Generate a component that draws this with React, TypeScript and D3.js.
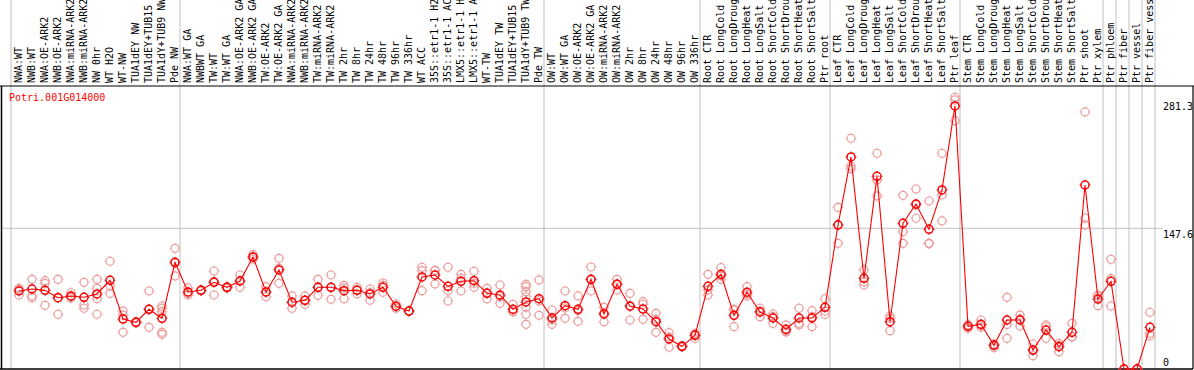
import React from "react";
import * as d3 from "d3";

const categories = [
  "NWA:WT", "NWB:WT", "NWA:OE-ARK2", "NWB:OE-ARK2", "NWA:miRNA-ARK2", "NWB:miRNA-ARK2",
  "NW 0hr", "WT H2O", "WT-NW", "TUA1dEY NW", "TUA1dEY+TUB15", "TUA1dY+TUB9 NW", "Pde NW",
  "NWA:WT GA", "NWBWT GA", "TW:WT", "TW:WT GA", "NWA:OE-ARK2 GA", "NWB:OE-ARK2 GA",
  "TW:OE-ARK2", "TW:OE-ARK2 GA", "NWA:miRNA-ARK2", "NWB:miRNA-ARK2", "TW:miRNA-ARK2",
  "TW:miRNA-ARK2", "TW 2hr", "TW 8hr", "TW 24hr", "TW 48hr", "TW 96hr", "TW 336hr",
  "WT ACC", "35S::etr1-1 H2", "35S::etr1-1 AC", "LMX5::etr1-1 H", "LMX5::etr1-1 A",
  "WT-TW", "TUA1dEY TW", "TUA1dEY+TUB15", "TUA1dY+TUB9 TW", "Pde TW",
  "OW:WT", "OW:WT GA", "OW:OE-ARK2", "OW:OE-ARK2 GA", "OW:miRNA-ARK2", "OW:miRNA-ARK2",
  "OW 2hr", "OW 8hr", "OW 24hr", "OW 48hr", "OW 96hr", "OW 336hr",
  "Root CTR", "Root LongCold", "Root LongDroug", "Root LongHeat", "Root LongSalt",
  "Root ShortCold", "Root ShortDrou", "Root ShortHeat", "Root ShortSalt", "Ptr root",
  "Leaf CTR", "Leaf LongCold", "Leaf LongDroug", "Leaf LongHeat", "Leaf LongSalt",
  "Leaf ShortCold", "Leaf ShortDrou", "Leaf ShortHeat", "Leaf ShortSalt", "Ptr leaf",
  "Stem CTR", "Stem LongCold", "Stem LongDroug", "Stem LongHeat", "Stem LongSalt",
  "Stem ShortCold", "Stem ShortDrou", "Stem ShortHeat", "Stem ShortSalt", "Ptr shoot",
  "Ptr xylem", "Ptr phloem", "Ptr fiber", "Ptr vessel", "Ptr fiber vess",
];

const means = [
  81.8, 83.9, 82.5, 74.8, 76.6, 75.2, 78.7, 93, 52.4, 49, 62.6, 53.2, 111.9,
  80.8, 82.5, 90.9, 85.7, 92.3, 117.5, 80.8, 103.9, 70, 72, 85.7, 85.7, 82.2, 82.5,
  78.7, 85.7, 65.8, 60.8, 96.5, 98.6, 86.7, 92, 92.6, 79.4, 77.6, 62.6, 70.3, 73.7,
  53.5, 66.4, 62.6, 94.1, 57.7, 88.8, 65.8, 62.9, 49.6, 31.5, 23.8, 35.3,
  86.7, 99.3, 56.3, 80.5, 59.8, 53.5, 41.6, 53.5, 53.5, 64.7,
  151, 222.4, 95.1, 202.1, 49.6, 152.8, 173, 146.5, 187.8, 275.9,
  44.8, 46.9, 24.8, 51.4, 51.4, 19.9, 40.9, 23.4, 38.5, 193,
  73.4, 92, 0, 0, 43.7,
];

const replicates = [
  [84.6, 77.6, 83], [94.1, 76.6, 74.8], [92.6, 89.9, 66.8], [94.1, 57.4, 74.8],
  [80, 75.2, 74.6], [90.9, 67.1, 63.7], [94.1, 84.6, 73.7, 57.4], [113, 87.1, 79.4],
  [60.8, 56.6, 38.5], [49.6, 49, 48.5], [81.8, 43.7, 62.6], [66.1, 63.7, 60.1, 38.5, 36.4],
  [126.6, 97.6, 111], [85, 79.4, 77.6], [83, 82, 82.5], [102.8, 77.6, 92],
  [86.3, 84.6, 86], [98.6, 85.7, 92.6], [117.5, 115.1, 120], [86.3, 75.8, 80.5],
  [116.1, 89.9, 105.7], [76.6, 63.7, 70], [76.6, 67.9, 72], [94.1, 77.3, 85.7],
  [98.6, 73.1, 85.5], [87.8, 85, 73.7], [85.7, 78.7, 83], [83.9, 72.1, 80],
  [90.2, 87.8, 80.5], [68.2, 63.7, 65.5], [60.8, 61, 60.6], [106.7, 103.1, 82.2],
  [103.1, 89.2, 103.5], [106.7, 82.2, 71.3], [99.3, 81.8, 95], [102.5, 85.7, 90],
  [84.6, 73.7, 80], [88.1, 68.9, 76], [67.9, 60.1, 60],
  [88.8, 86.3, 81.1, 75.8, 64.7, 57.4, 46.9], [93.4, 56.3, 71.4],
  [61.9, 46.9, 51.7], [81.8, 53.2, 64], [76.6, 50, 61], [107, 81.8, 93.5],
  [64.7, 49.6, 58.8], [94.1, 82.9, 89.4], [79.4, 51.4, 66.6], [70.6, 67.9, 52.1],
  [58.4, 38.5, 52], [38.1, 22.8, 33.6], [24.5, 23, 24], [37.4, 32.2, 36.3],
  [99.3, 77.6, 83], [106.3, 94.1, 97.5], [61.9, 44.4, 62.6], [86.3, 76.6, 78.6],
  [63.7, 54.9, 60.8], [57.7, 47.9, 54.9], [46.2, 38.8, 39.8], [63.7, 47.9, 46.2],
  [61.2, 44.4, 54.9], [73.7, 60.8, 57.4],
  [169.6, 131.8, 151.6], [242, 212.9, 210.1], [103.9, 91.6, 88.1], [226.3, 198.3, 181.5],
  [53.2, 40.2, 55.4], [182.2, 144, 131.8], [188.8, 158.1, 172], [176.2, 131.8, 131.5],
  [226.3, 182.5, 155.3], [285, 282.2, 260.5],
  [46.5, 45, 42.7], [51.4, 43.7, 45.6], [26, 26, 22.3], [75.2, 32.2, 46.8],
  [56.6, 45.1, 52.5], [26.2, 14, 19.5], [46.2, 32.2, 44.3], [27, 18.2, 25],
  [47.9, 33.9, 33.7], [269.6, 158.4, 151],
  [77.6, 66.4, 76.2], [115.1, 66.1, 94.8], [0, 0, 0], [0, 0, 0], [59.5, 37.4, 34.6],
];

const groupStarts = [0, 13, 41, 53, 63, 73, 84, 85, 86, 87, 88];
const yTicks = [281.3, 147.6, 0];
const geneName = "Potri.001G014000";

const W = 1194;
const H = 370;
const FONT = "'DejaVu Sans Mono', 'Liberation Mono', monospace";

export default function App() {
  const x = d3.scaleLinear().domain([0, categories.length - 1]).range([19, 1150]);
  const y = d3.scaleLinear().domain([0, 281.3]).range([369, 100.8]);
  const headerY = 86;
  const plotRight = 1193;
  const boundary = (i: number) => x(i) - 8;

  const line = d3
    .line<number>()
    .x((_, i) => x(i))
    .y((d) => y(d));

  const pink = "#eb9a9a";
  const red = "#ff0000";

  const marker = (cx: number, cy: number, color: string, tick: string, key: string, w: number) => (
    <g key={key}>
      <circle cx={cx} cy={cy} r={4} fill="none" stroke={color} strokeWidth={w} />
      <path
        d={`M${cx},${cy - 5.4}V${cy - 4.4}M${cx},${cy + 4.4}V${cy + 5.4}M${cx - 5.4},${cy}H${cx - 4.4}M${cx + 4.4},${cy}H${cx + 5.4}`}
        stroke={tick}
        strokeWidth={1}
      />
    </g>
  );

  return (
    <svg
      width={W}
      height={H}
      style={{ position: "absolute", left: 0, top: 0, background: "#fff" }}
      fontFamily={FONT}
    >
      <rect x={0} y={0} width={W} height={H} fill="#fff" />
      {groupStarts.map((g) => (
        <line
          key={"v" + g}
          x1={boundary(g)}
          x2={boundary(g)}
          y1={0}
          y2={369}
          stroke="#c0c0c0"
          strokeWidth={1}
        />
      ))}
      {yTicks
        .filter((t) => t !== 0 && t !== 281.3)
        .map((t) => (
          <line key={"h" + t} x1={1} x2={1163} y1={y(t)} y2={y(t)} stroke="#c0c0c0" strokeWidth={1} />
        ))}
      {categories.map((c, i) => (
        <text
          key={"c" + i}
          transform={`translate(${x(i) + 2.5},83) rotate(-90)`}
          fontSize={10}
          fill="#000"
        >
          {c}
        </text>
      ))}
      <line x1={0} x2={W} y1={headerY} y2={headerY} stroke="#000" strokeWidth={1.2} />
      <line x1={1.5} x2={1.5} y1={headerY} y2={369} stroke="#000" strokeWidth={1.5} />
      <line x1={0} x2={plotRight} y1={369} y2={369} stroke="#000" strokeWidth={1.5} />
      <line x1={plotRight} x2={plotRight} y1={headerY} y2={369} stroke="#000" strokeWidth={1.2} />
      <text x={9} y={101} fontSize={10} fill={red}>
        {geneName}
      </text>
      {yTicks.map((t) => (
        <text key={"t" + t} x={1163} y={t === 0 ? y(t) - 3 : y(t) + 9.5} fontSize={10} fill="#000">
          {String(t)}
        </text>
      ))}
      {replicates.map((reps, i) =>
        reps.map((v, j) => marker(x(i), y(v), pink, pink, `r${i}-${j}`, 1.2))
      )}
      <path d={line(means) || ""} fill="none" stroke={red} strokeWidth={1.1} />
      {means.map((v, i) => marker(x(i), y(v), red, "#a00000", `m${i}`, 1.5))}
    </svg>
  );
}
